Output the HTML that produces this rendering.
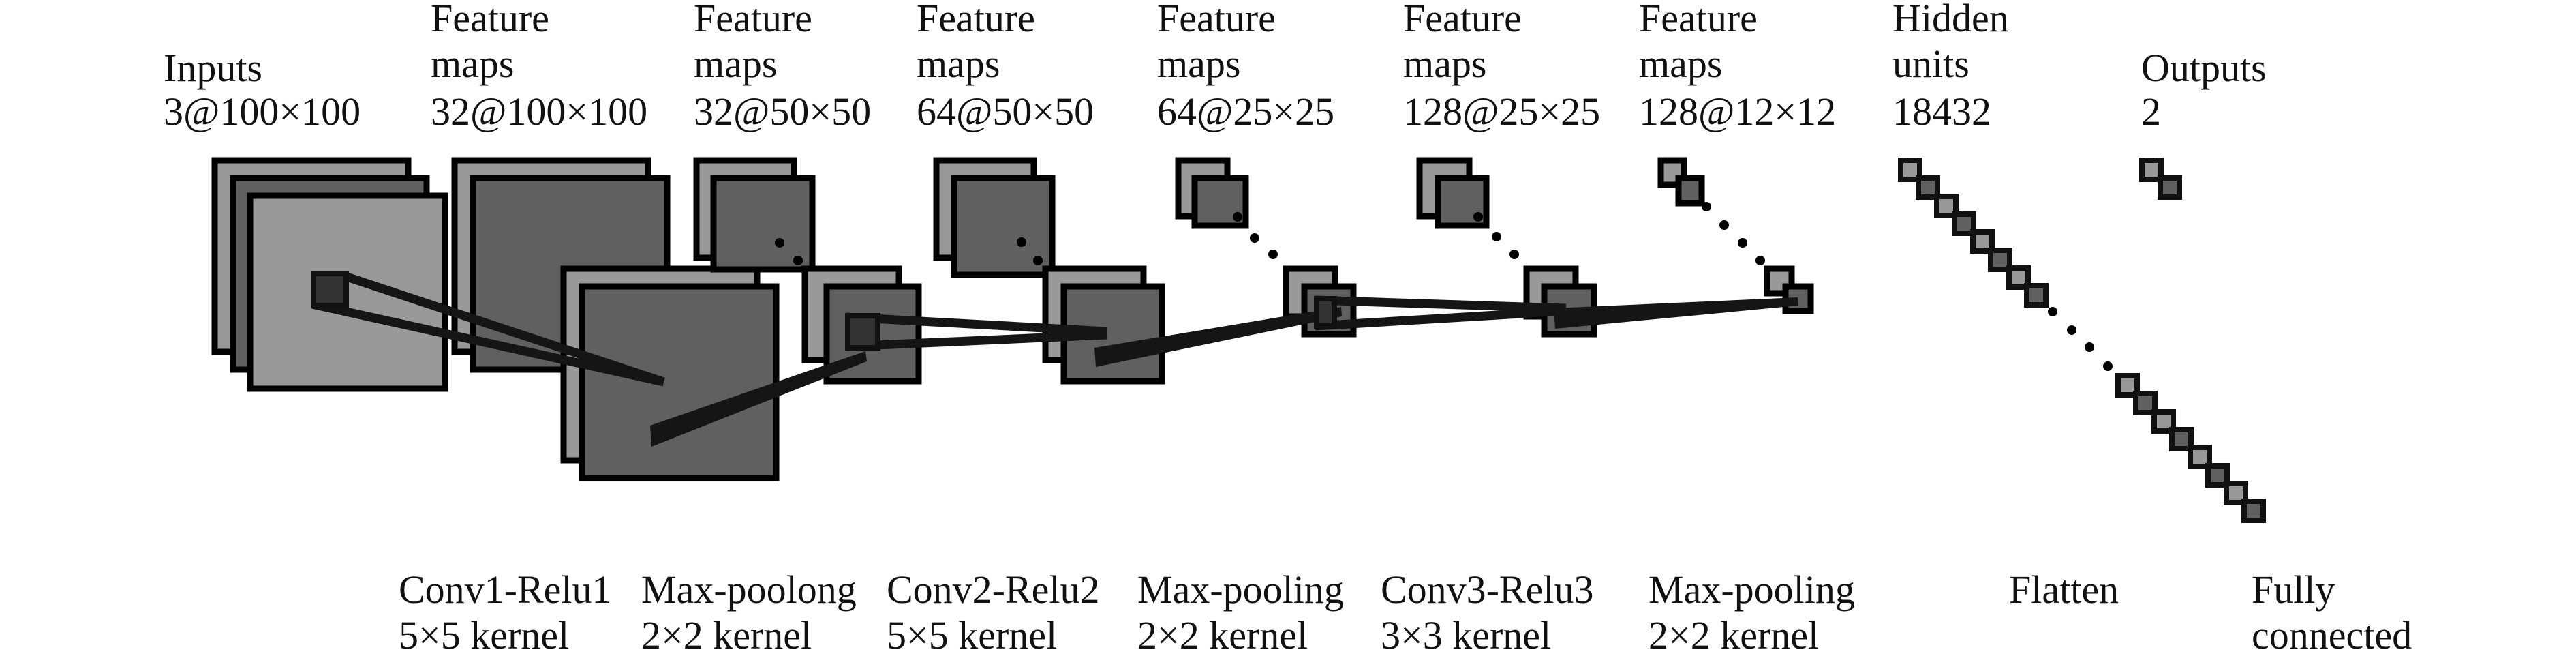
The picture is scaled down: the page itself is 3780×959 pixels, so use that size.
<!DOCTYPE html>
<html><head><meta charset="utf-8"><style>
html,body{margin:0;padding:0;background:#fff;}
svg{display:block;}
text{font-family:"Liberation Serif",serif;font-size:58px;fill:#111;}
</style></head><body>
<svg width="3780" height="959" viewBox="0 0 3780 959" xmlns="http://www.w3.org/2000/svg">
<g stroke="#000" stroke-width="9">
<!-- inputs -->
<rect x="315" y="235" width="284" height="281" fill="#999"/>
<rect x="342" y="261" width="284" height="281" fill="#606060"/>
<rect x="367" y="287" width="286" height="283" fill="#999"/>
<!-- conv1 -->
<rect x="667" y="235" width="284" height="281" fill="#999"/>
<rect x="694" y="261" width="285" height="281" fill="#606060"/>
<rect x="827" y="394" width="284" height="281" fill="#999"/>
<rect x="854" y="420" width="285" height="281" fill="#606060"/>
<!-- pool1 -->
<rect x="1022" y="235" width="143" height="143" fill="#999"/>
<rect x="1047" y="261" width="145" height="134" fill="#606060"/>
<rect x="1181" y="394" width="138" height="134" fill="#999"/>
<rect x="1213" y="420" width="135" height="139" fill="#606060"/>
<!-- conv2 -->
<rect x="1374" y="235" width="143" height="143" fill="#999"/>
<rect x="1400" y="261" width="144" height="142" fill="#606060"/>
<rect x="1534" y="394" width="144" height="134" fill="#999"/>
<rect x="1561" y="420" width="144" height="139" fill="#606060"/>
<!-- pool2 -->
<rect x="1729" y="235" width="72" height="82" fill="#999"/>
<rect x="1753" y="261" width="75" height="70" fill="#606060"/>
<rect x="1887" y="394" width="72" height="70" fill="#999"/>
<rect x="1914" y="420" width="72" height="70" fill="#606060"/>
<!-- conv3 -->
<rect x="2083" y="235" width="73" height="82" fill="#999"/>
<rect x="2110" y="261" width="71" height="70" fill="#606060"/>
<rect x="2240" y="394" width="72" height="70" fill="#999"/>
<rect x="2266" y="420" width="73" height="70" fill="#606060"/>
<!-- pool3 -->
<rect x="2437" y="235" width="34" height="36" fill="#999"/>
<rect x="2463" y="261" width="34" height="37" fill="#606060"/>
<rect x="2593" y="394" width="36" height="36" fill="#999"/>
<rect x="2620" y="420" width="37" height="36" fill="#606060"/>
</g>
<!-- dots -->
<g fill="#000">
<circle cx="1144" cy="356" r="7"/><circle cx="1171" cy="382" r="7"/>
<circle cx="1499" cy="355" r="7"/><circle cx="1523" cy="382" r="7"/>
<circle cx="1816" cy="318" r="7"/><circle cx="1841" cy="349" r="7"/><circle cx="1868" cy="373" r="7"/>
<circle cx="2169" cy="318" r="7"/><circle cx="2196" cy="347" r="7"/><circle cx="2222" cy="373" r="7"/>
<circle cx="2504" cy="303" r="7"/><circle cx="2530" cy="330" r="7"/><circle cx="2557" cy="356" r="7"/><circle cx="2583" cy="382" r="7"/>
<circle cx="3012" cy="457" r="7"/><circle cx="3040" cy="484" r="7"/><circle cx="3066" cy="509" r="7"/><circle cx="3093" cy="537" r="7"/>
</g>
<!-- hidden units -->
<g stroke="#111" stroke-width="8">
<rect x="2789" y="235" width="28" height="28" fill="#999"/>
<rect x="2815" y="261" width="28" height="28" fill="#606060"/>
<rect x="2842" y="288" width="28" height="28" fill="#999"/>
<rect x="2868" y="314" width="28" height="28" fill="#606060"/>
<rect x="2895" y="340" width="28" height="28" fill="#999"/>
<rect x="2921" y="367" width="28" height="28" fill="#606060"/>
<rect x="2948" y="393" width="28" height="28" fill="#999"/>
<rect x="2974" y="419" width="28" height="28" fill="#606060"/>
<rect x="3108" y="551" width="28" height="28" fill="#999"/>
<rect x="3134" y="577" width="28" height="28" fill="#606060"/>
<rect x="3161" y="604" width="28" height="28" fill="#999"/>
<rect x="3187" y="630" width="28" height="28" fill="#606060"/>
<rect x="3214" y="656" width="28" height="28" fill="#999"/>
<rect x="3240" y="683" width="28" height="28" fill="#606060"/>
<rect x="3267" y="709" width="28" height="28" fill="#999"/>
<rect x="3293" y="735" width="28" height="28" fill="#606060"/>
<rect x="3143" y="235" width="28" height="28" fill="#999"/>
<rect x="3170" y="261" width="28" height="28" fill="#606060"/>
</g>
<!-- connections -->
<g stroke="#151515" stroke-width="13" stroke-linecap="butt" fill="none">
<line x1="503" y1="404" x2="974" y2="560"/>
<line x1="458" y1="446" x2="974" y2="560"/>
<line x1="1242" y1="465" x2="1624" y2="486"/>
<line x1="1242" y1="508" x2="1624" y2="491"/>
<line x1="1930" y1="440" x2="2298" y2="452"/>
<line x1="1930" y1="478" x2="2298" y2="456"/>
</g>
<g fill="#151515">
<polygon points="954,624 1270,515 1272,530 956,655"/>
<polygon points="1606,510 1968,450 1969,464 1608,538"/>
<polygon points="2280,452 2638,436 2639,448 2282,482"/>
</g>
<g fill="#333" stroke="#111" stroke-width="8">
<rect x="460" y="401" width="48" height="47"/>
<rect x="1244" y="463" width="44" height="47"/>
<rect x="1932" y="438" width="26" height="40"/>
</g>
<!-- top labels -->
<text x="240" y="119">Inputs</text><text x="240" y="183">3@100×100</text>
<text x="632" y="46">Feature</text><text x="632" y="113">maps</text><text x="632" y="183">32@100×100</text>
<text x="1018" y="46">Feature</text><text x="1018" y="113">maps</text><text x="1018" y="183">32@50×50</text>
<text x="1345" y="46">Feature</text><text x="1345" y="113">maps</text><text x="1345" y="183">64@50×50</text>
<text x="1698" y="46">Feature</text><text x="1698" y="113">maps</text><text x="1698" y="183">64@25×25</text>
<text x="2059" y="46">Feature</text><text x="2059" y="113">maps</text><text x="2059" y="183">128@25×25</text>
<text x="2405" y="46">Feature</text><text x="2405" y="113">maps</text><text x="2405" y="183">128@12×12</text>
<text x="2777" y="46">Hidden</text><text x="2777" y="113">units</text><text x="2777" y="183">18432</text>
<text x="3142" y="119">Outputs</text><text x="3142" y="183">2</text>
<!-- bottom labels -->
<text x="585" y="884">Conv1-Relu1</text><text x="585" y="951">5×5 kernel</text>
<text x="941" y="884">Max-poolong</text><text x="941" y="951">2×2 kernel</text>
<text x="1301" y="884">Conv2-Relu2</text><text x="1301" y="951">5×5 kernel</text>
<text x="1669" y="884">Max-pooling</text><text x="1669" y="951">2×2 kernel</text>
<text x="2026" y="884">Conv3-Relu3</text><text x="2026" y="951">3×3 kernel</text>
<text x="2419" y="884">Max-pooling</text><text x="2419" y="951">2×2 kernel</text>
<text x="2948" y="884">Flatten</text>
<text x="3304" y="884">Fully</text><text x="3304" y="951">connected</text>
</svg>
</body></html>
